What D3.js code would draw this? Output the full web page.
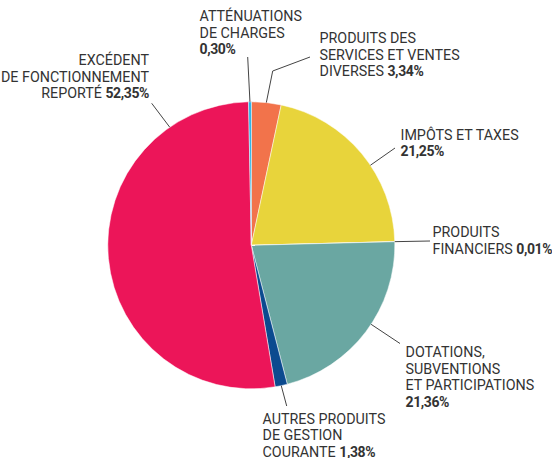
<!DOCTYPE html>
<html>
<head>
<meta charset="utf-8">
<script src="https://cdn.jsdelivr.net/npm/d3@7"></script>
<style>
  body { margin: 0; background: #fff; }
  svg text { font-family: "Roboto", "Noto Sans", sans-serif; fill: #333; }
</style>
</head>
<body>
<div id="chart"></div>
<script>
// slices, clockwise from 12 o'clock
const names = ['services', 'impots', 'financiers', 'dotations', 'autres', 'excedent', 'attenuations'];
const values = [3.34, 21.25, 0.01, 21.36, 1.38, 52.35, 0.30];
const colors = ['#F2734B', '#E8D43B', '#8FA9A6', '#6AA7A2', '#0B4A8F', '#EC1559', '#1AAEE5'];
// label text, the value is appended to the last line
const labelLines = [
  ['PRODUITS DES', 'SERVICES ET VENTES', 'DIVERSES'],
  ['IMPÔTS ET TAXES', ''],
  ['PRODUITS', 'FINANCIERS'],
  ['DOTATIONS,', 'SUBVENTIONS', 'ET PARTICIPATIONS', ''],
  ['AUTRES PRODUITS', 'DE GESTION', 'COURANTE'],
  ['EXCÉDENT', 'DE FONCTIONNEMENT', 'REPORTÉ'],
  ['ATTÉNUATIONS', 'DE CHARGES', '']
];

const W = 552, H = 458;
const cx = 251.3, cy = 245.3, r = 143.5;
const lineH = 16.5;

// label placement: text position, leader bend points, where on the slice the leader hits (0..1)
const layout = {
  services:     { x: 319.5, y: 43,    anchor: 'start', pts: [[310, 57], [272.7, 71]], t: 0.5 },
  impots:       { x: 400.5, y: 139.5, anchor: 'start', pts: [[395, 148]], t: 0.576 },
  financiers:   { x: 432.5, y: 237,   anchor: 'start', pts: [[430, 241]], t: 0.5 },
  dotations:    { x: 405.5, y: 357,   anchor: 'start', pts: [[400, 343.5]], t: 0.453 },
  autres:       { x: 262.5, y: 423.5, anchor: 'start', pts: [[286.7, 406]], t: 0.5 },
  excedent:     { x: 149,   y: 65,    anchor: 'end',   pts: [[151.7, 103.3]], t: 0.822 },
  attenuations: { x: 199.5, y: 21,    anchor: 'start', pts: [[247.7, 57]], t: 0.5 }
};

const fmt = v => d3.format('.2f')(v).replace('.', ',') + '%';

const data = names.map((n, i) => ({ name: n, value: values[i], color: colors[i], lines: labelLines[i] }));

const svg = d3.select('#chart').append('svg')
  .attr('width', W)
  .attr('height', H);

const pie = d3.pie().sort(null).value(d => d.value);
const arc = d3.arc().innerRadius(0).outerRadius(r);
const arcs = pie(data);

const g = svg.append('g').attr('transform', `translate(${cx},${cy})`);

g.selectAll('path.slice')
  .data(arcs)
  .enter()
  .append('path')
  .attr('class', 'slice')
  .attr('d', arc)
  .attr('fill', d => d.data.color)
  .attr('stroke', '#fff')
  .attr('stroke-width', 0.5);

// leaders
const line = d3.line();
arcs.forEach(a => {
  const L = layout[a.data.name];
  const ang = a.startAngle + (a.endAngle - a.startAngle) * L.t;
  const p = d3.pointRadial(ang, r);
  const pts = L.pts.concat([[p[0] + cx, p[1] + cy]]);
  svg.append('path')
    .attr('d', line(pts))
    .attr('fill', 'none')
    .attr('stroke', '#444')
    .attr('stroke-width', 1);
});

// labels
arcs.forEach(a => {
  const L = layout[a.data.name];
  const txt = svg.append('text')
    .attr('text-anchor', L.anchor)
    .style('font-size', '14.3px');
  const n = a.data.lines.length;
  a.data.lines.forEach((s, i) => {
    const ts = txt.append('tspan')
      .attr('x', L.x)
      .attr('y', L.y + i * lineH);
    if (i < n - 1) {
      ts.text(s);
    } else {
      if (s) ts.append('tspan').text(s + ' ');
      ts.append('tspan')
        .style('font-weight', 'bold')
        .style('font-size', '14px')
        .style('letter-spacing', '-0.4px')
        .text(fmt(a.data.value));
    }
  });
});
</script>
</body>
</html>
